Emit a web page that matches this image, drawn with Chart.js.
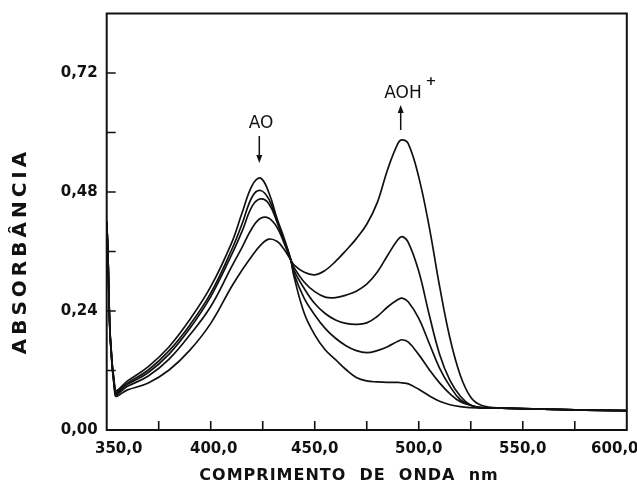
<!DOCTYPE html>
<html>
<head>
<meta charset="utf-8">
<script src="https://cdn.jsdelivr.net/npm/chart.js@4"></script>
<style>
  html, body { margin: 0; padding: 0; background: #fff; }
  canvas { display: block; }
</style>
</head>
<body>
<canvas id="spectrum" width="637" height="488"></canvas>
<script>
// golflengte (nm) en de vijf absorptiespectra
var wavelengths = [350, 354, 360, 370, 380, 390, 400, 410, 415, 420, 424, 428, 432, 435, 438.5, 440, 445, 450, 455, 460,
  465, 470, 475, 480, 485, 490, 492, 495, 500, 505, 510, 515, 520, 525, 530, 540, 560, 580, 600];

var absorbance1 = [0.42, 0.082, 0.099, 0.128, 0.168, 0.223, 0.289, 0.377, 0.437, 0.494, 0.508, 0.478, 0.425, 0.39, 0.343, 0.31, 0.235, 0.192, 0.162, 0.142,
  0.122, 0.106, 0.099, 0.097, 0.096, 0.096, 0.095, 0.093, 0.082, 0.069, 0.058, 0.051, 0.047, 0.045, 0.044, 0.044, 0.042, 0.04, 0.039];
var absorbance2 = [0.42, 0.079, 0.095, 0.121, 0.160, 0.212, 0.276, 0.363, 0.415, 0.471, 0.483, 0.465, 0.42, 0.386, 0.343, 0.315, 0.265, 0.232, 0.205, 0.185,
  0.17, 0.16, 0.156, 0.16, 0.168, 0.179, 0.182, 0.177, 0.152, 0.122, 0.095, 0.073, 0.057, 0.05, 0.045, 0.044, 0.042, 0.04, 0.039];
var absorbance3 = [0.42, 0.077, 0.092, 0.116, 0.153, 0.205, 0.269, 0.353, 0.40, 0.452, 0.466, 0.456, 0.418, 0.385, 0.343, 0.322, 0.285, 0.255, 0.235, 0.222,
  0.215, 0.213, 0.216, 0.229, 0.248, 0.263, 0.266, 0.258, 0.225, 0.175, 0.125, 0.088, 0.061, 0.05, 0.045, 0.044, 0.042, 0.04, 0.039];
var absorbance4 = [0.42, 0.074, 0.088, 0.109, 0.143, 0.192, 0.249, 0.329, 0.368, 0.408, 0.427, 0.427, 0.408, 0.38, 0.343, 0.328, 0.298, 0.279, 0.268, 0.267,
  0.272, 0.28, 0.294, 0.318, 0.352, 0.384, 0.39, 0.378, 0.32, 0.233, 0.153, 0.10, 0.068, 0.05, 0.045, 0.044, 0.042, 0.04, 0.039];
var absorbance5 = [0.42, 0.071, 0.081, 0.095, 0.121, 0.161, 0.215, 0.289, 0.322, 0.352, 0.373, 0.385, 0.38, 0.366, 0.343, 0.333, 0.318, 0.313, 0.322, 0.34,
  0.362, 0.386, 0.415, 0.458, 0.525, 0.578, 0.585, 0.577, 0.51, 0.41, 0.29, 0.185, 0.11, 0.066, 0.05, 0.044, 0.042, 0.04, 0.039];

var xLabels = [350, 400, 450, 500, 550, 600];
var xMinorTicks = [375, 400, 425, 450, 475, 500, 525, 550, 575];
var yLabels = [0, 0.24, 0.48, 0.72];
var yMinorTicks = [0.12, 0.24, 0.36, 0.48, 0.60, 0.72];

var xTitle = 'COMPRIMENTO  DE  ONDA  nm';
var yTitle = 'ABSORBÂNCIA';

var INK = '#111';

function komma(v, d){
  return v.toFixed(d).replace('.', ',');
}

// zet de arrays om naar {x, y} punten
function toPoints(values){
  var pts = [];
  values.forEach(function(v, i){
    pts.push({x: wavelengths[i], y: v});
  });
  return pts;
}

function dataset(values){
  return {
    data: toPoints(values),
    borderColor: INK,
    borderWidth: 1.7,
    pointRadius: 0,
    fill: false,
    tension: 0.4
  };
}

/**
* Kader, naar binnen gerichte streepjes, x-labels, titels en de AO / AOH+ pijlen.
**/
var framePlugin = {
  id: 'frame',
  afterDraw(chart){
    var ctx = chart.ctx;
    var a = chart.chartArea;
    var xs = chart.scales.x, ys = chart.scales.y;
    ctx.save();
    ctx.strokeStyle = INK;
    ctx.fillStyle = INK;
    ctx.lineWidth = 2;
    ctx.strokeRect(a.left, a.top, a.right - a.left, a.bottom - a.top);

    ctx.lineWidth = 1.6;
    ctx.beginPath();
    xMinorTicks.forEach(function(v){
      var px = xs.getPixelForValue(v);
      ctx.moveTo(px, a.bottom);
      ctx.lineTo(px, a.bottom - 9);
    });
    yMinorTicks.forEach(function(v){
      var py = ys.getPixelForValue(v);
      ctx.moveTo(a.left, py);
      ctx.lineTo(a.left + 9, py);
    });
    ctx.stroke();

    // x labels, eerste en laatste schuiven naar binnen zoals in het origineel
    ctx.font = 'bold 15px "DejaVu Sans"';
    ctx.textAlign = 'center';
    ctx.textBaseline = 'alphabetic';
    xLabels.forEach(function(v, i){
      var px = xs.getPixelForValue(v);
      if (i === 0) px += 12;
      if (i === 1) px += 3;
      if (i === xLabels.length - 1) px -= 12;
      ctx.fillText(komma(v, 1), px, a.bottom + 23);
    });

    // as titels
    ctx.font = 'bold 16px "DejaVu Sans"';
    ctx.letterSpacing = '1px';
    ctx.fillText(xTitle, 349, 480);

    ctx.save();
    ctx.translate(21, 253);
    ctx.rotate(-Math.PI / 2);
    ctx.font = 'bold 20px "DejaVu Sans"';
    ctx.letterSpacing = '4px';
    ctx.textBaseline = 'middle';
    ctx.fillText(yTitle, 2, 0);
    ctx.restore();

    // annotaties
    ctx.letterSpacing = '0px';
    ctx.font = '17px "DejaVu Sans"';
    ctx.textBaseline = 'alphabetic';
    ctx.fillText('AO', 261, 128);
    ctx.fillText('AOH', 403, 98);
    ctx.font = 'bold 13px "DejaVu Sans"';
    ctx.fillText('+', 431, 85);

    ctx.lineWidth = 1.5;
    ctx.beginPath();
    ctx.moveTo(259.3, 136); ctx.lineTo(259.3, 158);
    ctx.moveTo(400.7, 130); ctx.lineTo(400.7, 111);
    ctx.stroke();
    ctx.beginPath();
    ctx.moveTo(256.3, 155); ctx.lineTo(262.3, 155); ctx.lineTo(259.3, 163); ctx.closePath();
    ctx.moveTo(397.7, 113); ctx.lineTo(403.7, 113); ctx.lineTo(400.7, 105); ctx.closePath();
    ctx.fill();
    ctx.restore();
  }
};

new Chart(document.getElementById('spectrum'), {
  type: 'line',
  data: {
    datasets: [dataset(absorbance1), dataset(absorbance2), dataset(absorbance3), dataset(absorbance4), dataset(absorbance5)]
  },
  options: {
    responsive: false,
    animation: false,
    devicePixelRatio: 1,
    layout: { padding: { top: 13.5, right: 10.2, bottom: 0, left: 0 } },
    plugins: { legend: { display: false }, tooltip: { enabled: false } },
    scales: {
      x: {
        type: 'linear',
        min: 350,
        max: 600,
        grid: { display: false, drawTicks: false },
        border: { display: false },
        ticks: { display: false },
        afterFit(scale){
          scale.height = 58;
          scale.paddingLeft = 0;
          scale.paddingRight = 0;
        }
      },
      y: {
        min: 0,
        max: 0.84,
        grid: { display: false, drawTicks: false },
        border: { display: false },
        ticks: {
          stepSize: 0.12,
          padding: 9,
          color: INK,
          font: { family: '"DejaVu Sans"', weight: 'bold', size: 15 },
          callback: function(value){
            var hit = yLabels.some(function(l){ return Math.abs(l - value) < 1e-6; });
            return hit ? komma(value, 2) : '';
          }
        },
        afterFit(scale){
          scale.width = 106.7;
          scale.paddingTop = 0;
          scale.paddingBottom = 0;
        }
      }
    }
  },
  plugins: [framePlugin]
});
</script>
</body>
</html>
